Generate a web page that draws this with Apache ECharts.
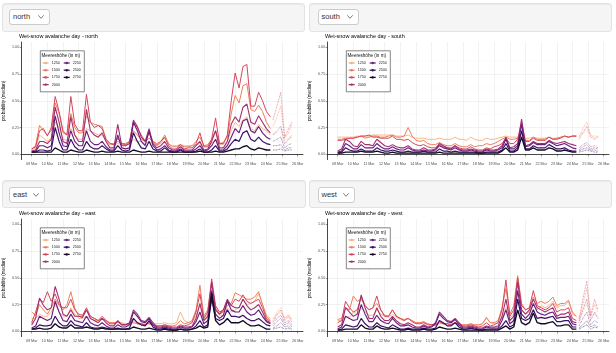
<!DOCTYPE html>
<html>
<head>
<meta charset="utf-8">
<script src="https://cdn.jsdelivr.net/npm/echarts@6/dist/echarts.min.js"></script>
<style>
  html, body { margin: 0; padding: 0; background: #fff; }
  body { width: 616px; height: 353px; position: relative; overflow: hidden; font-family: "Liberation Sans", Arial, sans-serif; }
  #chart { position: absolute; left: 0; top: 0; width: 616px; height: 353px; }
  .well { position: absolute; box-sizing: border-box; background: #f5f5f5; border: 1px solid #e3e3e3; border-radius: 3px; box-shadow: inset 0 1px 1px rgba(0,0,0,.05); z-index: 2; }
  .select { position: absolute; height: 16px; box-sizing: border-box; background: #fff; border: 1px solid #cccccc; border-radius: 3px; font-size: 7.5px; color: #333333; line-height: 14px; padding-left: 3px; }
  .select svg { position: absolute; right: 5px; top: 5px; }
</style>
</head>
<body>
<div id="chart"></div>
<div class="well" style="left:2px;top:3px;width:303px;height:29px"><div class="select" style="left:6px;top:5px;width:41px">north<svg width="6" height="4"><polyline points="0.3,0.3 3,3.3 5.7,0.3" fill="none" stroke="#444" stroke-width="0.7"/></svg></div></div>
<div class="well" style="left:309px;top:3px;width:303px;height:29px"><div class="select" style="left:7.5px;top:5px;width:41.5px">south<svg width="6" height="4"><polyline points="0.3,0.3 3,3.3 5.7,0.3" fill="none" stroke="#444" stroke-width="0.7"/></svg></div></div>
<div class="well" style="left:2px;top:180px;width:304px;height:28px"><div class="select" style="left:6px;top:5.5px;width:36px">east<svg width="6" height="4"><polyline points="0.3,0.3 3,3.3 5.7,0.3" fill="none" stroke="#444" stroke-width="0.7"/></svg></div></div>
<div class="well" style="left:309px;top:180px;width:303px;height:28px"><div class="select" style="left:7.5px;top:5.5px;width:37.5px">west<svg width="6" height="4"><polyline points="0.3,0.3 3,3.3 5.7,0.3" fill="none" stroke="#444" stroke-width="0.7"/></svg></div></div>
<script>
// elevations and styles
const elevations = ['1250', '1500', '1750', '2000', '2250', '2500', '2750'];
const colors = ['#f6b07a', '#ee7d5b', '#d6455b', '#a32f70', '#6b1f7d', '#3a1068', '#130b25'];
const widths = [0.9, 1.0, 1.0, 1.1, 1.15, 1.2, 1.35];

// observation times: 6-hourly from 09 Mar
const obsDays = [9, 10, 11, 12, 13, 14, 15, 16, 17, 18, 19, 20, 21, 22, 23, 24];
const obsHours = [0, 6, 12, 18];
// forecast times (dotted)
const fcDays = [24, 24, 24, 25, 25, 25];
const fcHours = [10, 16, 22, 4, 10, 15];

// values in percent
const north1250 = [4,6,18,15, 12,15,30,25, 14,13,24,18, 14,14,24,22, 20,18,18,12, 9,9,10,9, 9,10,14,12, 12,10,12,10, 9,10,15,9, 8,8,9,8, 8,8,9,10, 8,8,10,14, 9,9,12,22, 30,26,32,35, 24,22,28,24, 22,18];
const north1500 = [5,8,27,22, 18,22,48,38, 20,18,38,25, 20,20,36,30, 28,27,26,14, 10,10,12,10, 10,12,22,18, 14,12,15,12, 10,12,18,10, 7,7,9,7, 7,8,12,16, 8,9,14,22, 10,11,16,38, 55,48,64,66, 42,40,46,40, 30,24];
const north1750 = [5,7,22,24, 17,25,54,40, 22,18,54,28, 22,22,56,30, 25,27,24,14, 10,9,15,10, 9,12,30,25, 18,12,20,12, 8,12,16,8, 5,5,9,5, 6,6,10,20, 7,7,14,34, 10,10,18,50, 76,62,82,84, 45,45,58,50, 40,35];
const north2000 = [3,4,12,12, 10,14,44,30, 12,10,35,18, 12,12,42,22, 18,16,20,12, 6,6,28,8, 8,10,32,26, 16,12,24,10, 6,8,12,6, 4,4,7,4, 4,4,8,12, 4,5,12,22, 6,6,12,28, 35,30,44,47, 30,28,36,30, 24,20];
const north2250 = [2,3,8,8, 6,8,36,20, 8,7,22,12, 8,8,22,12, 9,9,12,7, 4,4,18,6, 5,6,30,22, 12,8,22,8, 4,5,8,4, 3,3,5,3, 3,3,5,8, 3,4,8,14, 4,4,8,16, 24,20,31,33, 22,20,26,20, 16,14];
const north2500 = [2,2,4,4, 3,4,25,12, 4,4,14,7, 4,4,12,7, 5,5,8,5, 3,3,8,4, 3,4,20,12, 6,5,12,5, 3,3,6,3, 2,2,4,2, 2,2,3,5, 2,2,4,8, 3,3,5,10, 14,12,20,22, 14,12,16,12, 10,9];
const north2750 = [2,2,2,2, 2,2,6,4, 2,2,4,3, 2,2,4,3, 2,2,3,2, 2,2,3,2, 2,2,4,3, 2,2,3,2, 2,2,2,2, 2,2,2,2, 2,2,2,3, 2,2,2,3, 2,2,3,4, 5,5,7,8, 5,4,6,5, 4,4];
const northFc1250 = [18, 20, 24, 14, 14, 16];
const northFc1500 = [26, 35, 45, 15, 20, 28];
const northFc1750 = [32, 45, 58, 16, 24, 30];
const northFc2000 = [18, 22, 26, 10, 14, 18];
const northFc2250 = [12, 14, 16, 6, 9, 10];
const northFc2500 = [8, 8, 9, 4, 6, 6];
const northFc2750 = [4, 4, 5, 3, 4, 4];

const south1250 = [16,16,16,16, 16,17,17,17, 17,18,18,18, 18,18,18,17, 17,17,18,16, 15,15,15,14, 14,14,15,14, 14,14,16,14, 14,13,16,14, 13,13,15,14, 14,15,16,17, 16,16,16,17, 15,15,16,15, 15,15,16,15, 15,16,17,16, 17,17];
const south1500 = [14,14,15,15, 15,16,17,15, 16,17,17,16, 16,17,18,16, 16,17,25,17, 13,12,13,10, 9,9,11,9, 8,8,10,8, 7,7,9,7, 8,8,10,9, 10,12,14,16, 14,14,15,17, 13,13,16,14, 14,14,16,14, 15,16,17,16, 17,17];
const south1750 = [13,13,14,15, 15,16,17,17, 18,16,16,15, 15,15,17,14, 14,13,14,11, 9,8,9,7, 6,6,9,7, 6,6,8,6, 5,5,7,5, 4,4,6,5, 7,8,10,15, 10,10,14,30, 12,12,15,13, 13,13,16,14, 14,15,17,16, 17,17];
const south2000 = [3,5,14,12, 8,7,12,9, 9,8,14,11, 8,7,9,7, 6,6,8,5, 4,4,6,4, 4,5,10,8, 6,5,8,5, 4,4,5,4, 3,3,5,4, 4,5,8,16, 6,7,10,33, 8,9,12,10, 10,10,13,11, 10,11,12,10, 9,8];
const south2250 = [2,3,10,8, 5,5,9,6, 6,6,10,7, 5,5,7,5, 4,4,6,4, 3,3,4,3, 3,4,8,6, 5,4,6,4, 3,3,4,3, 2,2,4,3, 3,4,6,14, 5,5,8,28, 7,8,11,9, 9,9,12,10, 8,9,10,8, 6,5];
const south2500 = [1,2,6,4, 3,3,5,3, 3,3,6,4, 3,3,4,3, 2,2,3,2, 2,2,3,2, 2,2,5,3, 3,2,3,2, 2,2,2,2, 1,1,2,2, 2,2,4,10, 3,3,6,22, 5,5,8,6, 6,6,9,7, 5,5,6,4, 3,3];
const south2750 = [1,1,2,2, 2,2,3,2, 2,2,3,2, 1,1,2,1, 1,1,1,1, 1,1,1,1, 1,1,2,1, 1,1,1,1, 1,1,1,1, 1,1,1,1, 1,1,3,6, 2,2,4,16, 4,4,6,4, 4,4,6,5, 3,3,4,3, 2,2];
const southFc1250 = [17, 20, 22, 18, 17, 17];
const southFc1500 = [16, 24, 30, 18, 15, 17];
const southFc1750 = [14, 20, 26, 16, 14, 16];
const southFc2000 = [6, 9, 11, 7, 8, 6];
const southFc2250 = [4, 7, 9, 5, 6, 5];
const southFc2500 = [3, 5, 6, 4, 4, 3];
const southFc2750 = [2, 3, 4, 3, 2, 2];

const east1250 = [12,12,16,14, 14,18,25,18, 14,14,22,16, 12,12,14,12, 10,10,12,10, 8,8,9,8, 7,7,9,8, 7,7,8,7, 7,7,8,7, 7,8,18,10, 8,9,14,25, 12,15,35,20, 15,15,22,18, 20,22,30,25, 26,28,35,25, 15,12];
const east1500 = [18,15,25,20, 16,22,30,24, 20,25,37,22, 14,14,20,14, 12,10,12,10, 8,8,8,7, 6,7,8,7, 6,6,7,6, 5,5,6,5, 5,6,10,7, 8,10,20,43, 14,20,45,22, 16,18,24,26, 36,34,32,30, 30,32,37,25, 14,10];
const east1750 = [8,18,30,27, 37,28,35,25, 22,22,30,20, 16,15,22,14, 12,10,14,10, 7,7,9,6, 6,7,12,8, 7,6,8,6, 5,5,6,5, 4,4,6,5, 6,8,18,35, 12,18,49,24, 18,20,28,24, 30,28,34,28, 26,28,30,22, 12,9];
const east2000 = [6,12,31,24, 20,22,42,30, 16,14,20,14, 14,13,20,12, 10,8,12,8, 5,5,10,6, 6,8,20,16, 10,9,13,8, 4,4,5,4, 3,3,5,4, 4,5,12,26, 10,14,46,20, 16,20,30,24, 22,22,30,24, 20,22,25,18, 10,8];
const east2250 = [3,5,14,12, 10,12,28,18, 10,9,16,10, 9,8,14,8, 6,5,8,5, 3,3,6,4, 4,6,18,14, 9,8,12,6, 3,3,4,3, 2,2,4,3, 3,4,9,18, 7,10,38,16, 12,15,28,20, 18,18,24,18, 15,16,20,14, 9,7];
const east2500 = [2,3,6,5, 5,6,14,8, 5,5,10,6, 5,4,8,4, 3,3,4,3, 2,2,3,2, 2,3,12,8, 6,5,10,4, 2,2,3,2, 1,1,2,2, 2,2,5,10, 4,6,30,12, 10,12,20,14, 14,13,15,12, 10,10,12,9, 6,5];
const east2750 = [2,2,3,2, 2,3,7,4, 3,3,6,3, 3,3,4,3, 2,2,3,2, 2,2,2,2, 2,2,4,3, 2,2,3,2, 1,1,2,1, 1,1,2,1, 1,2,3,5, 3,4,36,10, 6,8,12,8, 8,8,10,7, 5,5,6,4, 2,2];
const eastFc1250 = [12, 16, 18, 12, 14, 12];
const eastFc1500 = [10, 18, 22, 12, 16, 10];
const eastFc1750 = [9, 15, 20, 10, 14, 8];
const eastFc2000 = [7, 12, 15, 8, 10, 6];
const eastFc2250 = [5, 9, 12, 6, 8, 4];
const eastFc2500 = [3, 5, 8, 4, 5, 2];
const eastFc2750 = [2, 3, 4, 2, 3, 1];

const west1250 = [10,10,14,13, 18,16,22,18, 15,15,20,16, 14,13,16,13, 11,10,12,10, 8,8,8,7, 6,6,7,7, 7,7,8,7, 6,6,7,6, 6,7,12,8, 7,8,12,22, 12,16,30,20, 16,18,25,20, 24,22,24,28, 22,24,24,28, 16,14];
const west1500 = [11,12,22,20, 33,28,30,24, 20,22,26,20, 15,14,20,14, 12,11,12,10, 8,8,9,7, 6,6,8,7, 7,6,8,7, 6,6,7,6, 6,7,13,8, 8,10,22,40, 16,24,52,26, 20,22,32,26, 28,26,28,32, 24,26,26,29, 18,14];
const west1750 = [8,10,28,22, 18,20,32,24, 20,22,33,20, 14,14,20,14, 12,10,12,9, 7,7,8,6, 6,6,9,7, 7,6,8,6, 5,5,6,5, 4,5,8,5, 6,8,20,48, 14,20,50,24, 20,22,38,24, 22,20,22,26, 18,20,20,22, 12,10];
const west2000 = [4,6,22,18, 14,16,34,22, 12,12,22,14, 10,10,14,10, 7,6,8,6, 4,4,6,4, 5,8,18,14, 10,9,12,8, 4,4,5,4, 3,3,5,4, 4,5,14,30, 10,14,46,20, 16,20,30,22, 20,18,20,22, 14,16,16,18, 9,8];
const west2250 = [2,4,14,12, 10,11,25,16, 9,9,15,10, 8,7,12,8, 5,5,6,4, 3,3,5,3, 4,7,16,12, 9,8,11,6, 3,3,4,3, 2,2,4,3, 3,3,10,20, 7,10,38,16, 12,16,26,18, 16,15,17,18, 12,13,13,14, 7,6];
const west2500 = [1,2,6,5, 4,5,12,7, 4,4,8,5, 4,3,6,4, 2,2,3,2, 2,2,3,2, 2,3,10,8, 5,5,8,4, 2,2,3,2, 1,1,2,2, 2,2,5,10, 4,6,30,12, 10,12,20,12, 13,12,13,14, 9,9,10,10, 4,4];
const west2750 = [1,1,2,2, 2,2,6,3, 2,2,5,3, 2,2,3,2, 1,1,2,1, 1,1,2,1, 1,2,4,3, 2,2,3,2, 1,1,1,1, 1,1,1,1, 1,1,3,5, 2,4,20,8, 6,8,17,8, 7,7,8,9, 5,5,6,6, 2,2];
const westFc1250 = [14, 18, 25, 14, 16, 14];
const westFc1500 = [12, 25, 40, 14, 25, 18];
const westFc1750 = [10, 30, 47, 15, 30, 20];
const westFc2000 = [8, 20, 30, 10, 18, 12];
const westFc2250 = [5, 12, 18, 6, 10, 8];
const westFc2500 = [3, 6, 10, 4, 6, 4];
const westFc2750 = [2, 4, 6, 2, 4, 3];

const yTicks = [0, 0.25, 0.5, 0.75, 1];

const panels = [
  { name: 'north', x: 0, y: 0,
    obs: [north1250, north1500, north1750, north2000, north2250, north2500, north2750],
    fc: [northFc1250, northFc1500, northFc1750, northFc2000, northFc2250, northFc2500, northFc2750] },
  { name: 'south', x: 306, y: 0,
    obs: [south1250, south1500, south1750, south2000, south2250, south2500, south2750],
    fc: [southFc1250, southFc1500, southFc1750, southFc2000, southFc2250, southFc2500, southFc2750] },
  { name: 'east', x: 0, y: 177,
    obs: [east1250, east1500, east1750, east2000, east2250, east2500, east2750],
    fc: [eastFc1250, eastFc1500, eastFc1750, eastFc2000, eastFc2250, eastFc2500, eastFc2750] },
  { name: 'west', x: 306, y: 177,
    obs: [west1250, west1500, west1750, west2000, west2250, west2500, west2750],
    fc: [westFc1250, westFc1500, westFc1750, westFc2000, westFc2250, westFc2500, westFc2750] }
];

const DAY = 86400000;
const t0 = Date.UTC(2024, 2, 9);
const obsTimes = [];
obsDays.forEach((d) => obsHours.forEach((h) => obsTimes.push(Date.UTC(2024, 2, d, h))));
const fcTimes = fcDays.map((d, i) => Date.UTC(2024, 2, d, fcHours[i]));

const axisColor = '#1a1a1a';
const gridColor = '#e9e9e9';

const option = {
  animation: false,
  useUTC: true,
  textStyle: { fontFamily: 'Liberation Sans, Arial, sans-serif' },
  title: [],
  legend: [],
  grid: [],
  xAxis: [],
  yAxis: [],
  graphic: [],
  series: []
};

panels.forEach((p, k) => {
  option.title.push({
    text: 'Wet-snow avalanche day - ' + p.name,
    left: p.x + 19, top: p.y + 33, padding: 0,
    textStyle: { fontSize: 5.5, fontWeight: 'normal', color: '#000' }
  });
  option.grid.push({ left: p.x + 21.7, top: p.y + 42, width: 281.3, height: 117.6 });
  option.xAxis.push({
    type: 'time', gridIndex: k,
    min: t0 - 0.639 * DAY, max: t0 + 17.336 * DAY,
    minInterval: DAY, maxInterval: DAY,
    axisLine: { lineStyle: { color: axisColor, width: 0.8 } },
    axisTick: { show: true, length: 2, lineStyle: { color: '#333', width: 0.5 } },
    axisLabel: {
      formatter: '{dd} {MMM}', fontSize: 3.7, color: '#4d4d4d', margin: 2.3,
      showMinLabel: false, showMaxLabel: false, hideOverlap: false
    },
    splitLine: { show: true, showMinLine: false, showMaxLine: false, lineStyle: { color: gridColor, width: 0.6 } }
  });
  option.yAxis.push({
    type: 'value', gridIndex: k, min: -0.05, max: 1.05,
    minInterval: 0.25, maxInterval: 0.25,
    name: 'probability (median)', nameLocation: 'middle', nameGap: 15.5, nameRotate: 90,
    nameTextStyle: { fontSize: 4.6, color: '#000' },
    axisLine: { show: true, lineStyle: { color: axisColor, width: 0.8 } },
    axisTick: { show: true, length: 2, customValues: yTicks, lineStyle: { color: '#333', width: 0.5 } },
    axisLabel: {
      customValues: yTicks, fontSize: 3.7, color: '#4d4d4d', margin: 2.5,
      formatter: (v) => v.toFixed(2)
    },
    splitLine: { show: true, showMinLine: false, showMaxLine: false, lineStyle: { color: gridColor, width: 0.6 } },
    minorSplitLine: { show: true, lineStyle: { color: '#f4f4f4', width: 0.4 } },
    minorTick: { show: false, splitNumber: 2 }
  });

  // legend box with title
  option.graphic.push({
    type: 'rect', left: p.x + 40, top: p.y + 50.5, z: 5,
    shape: { width: 44, height: 41 },
    style: { fill: '#fff', stroke: '#333', lineWidth: 0.6 }
  });
  option.graphic.push({
    type: 'text', left: p.x + 41.5, top: p.y + 53.2, z: 6,
    style: { text: 'Meereshöhe (in m)', fontSize: 4.6, fill: '#111', fontFamily: 'Liberation Sans' }
  });
  option.legend.push({
    data: elevations, orient: 'vertical', left: p.x + 42, top: p.y + 61,
    height: 28, itemWidth: 6, itemHeight: 3, itemGap: 3.2, padding: 0, z: 7,
    lineStyle: { width: 1.3 },
    textStyle: { fontSize: 3.7, color: '#222', padding: [0, 0, 0, -2] },
    selectedMode: false
  });

  elevations.forEach((el, j) => {
    option.series.push({
      type: 'line', name: el, xAxisIndex: k, yAxisIndex: k,
      data: p.obs[j].map((v, i) => [obsTimes[i], v / 100]),
      symbol: 'none', z: 2 + j,
      lineStyle: { color: colors[j], width: widths[j] },
      itemStyle: { color: colors[j] },
      emphasis: { disabled: true }
    });
    option.series.push({
      type: 'line', name: el, xAxisIndex: k, yAxisIndex: k,
      data: p.fc[j].map((v, i) => [fcTimes[i], v / 100]),
      symbol: 'none', z: 2 + j,
      lineStyle: { color: colors[j], width: 0.8, type: 'dotted', opacity: 0.75 },
      itemStyle: { color: colors[j] },
      emphasis: { disabled: true }
    });
  });
});

const chart = echarts.init(document.getElementById('chart'), null, { renderer: 'canvas' });
chart.setOption(option);
</script>
</body>
</html>
